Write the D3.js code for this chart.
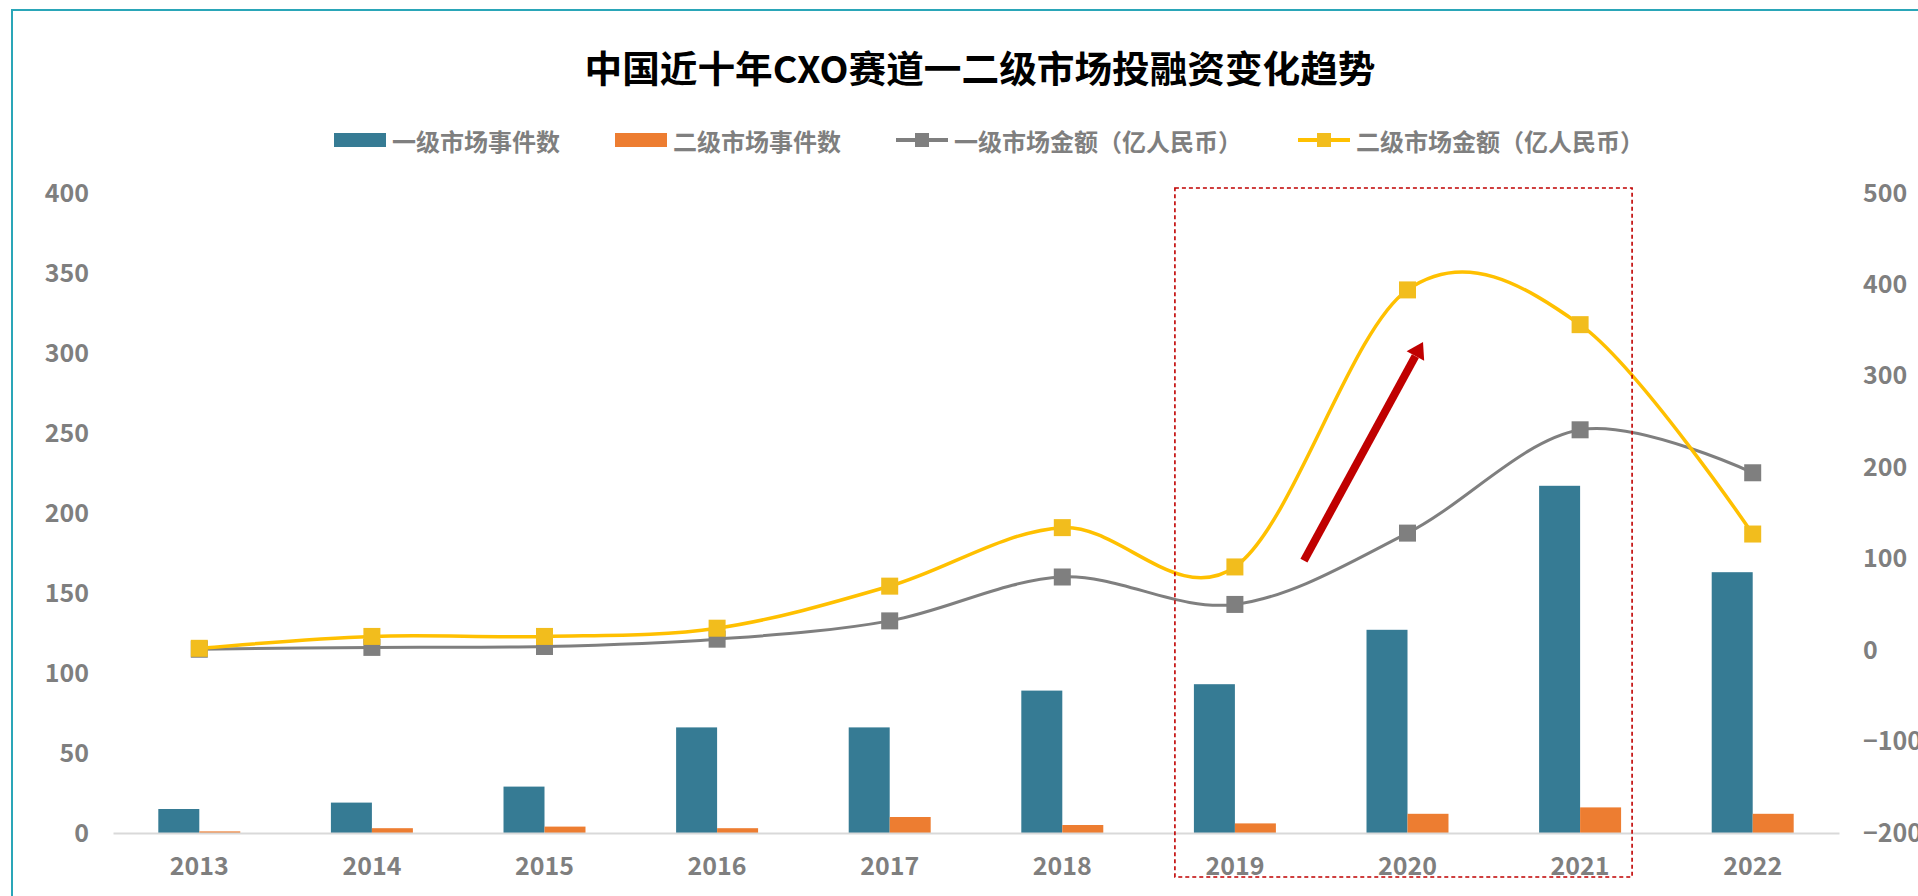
<!DOCTYPE html>
<html><head><meta charset="utf-8">
<script src="https://cdn.jsdelivr.net/npm/d3@7"></script>
<style>
body{margin:0;background:#fff;overflow:hidden;}
svg{display:block;}
text{font-family:"Noto Sans CJK SC","Noto Sans",sans-serif;font-weight:700;}
</style>
</head><body><svg id="c" width="1918" height="896"></svg>
<script>
const years = ["2013","2014","2015","2016","2017","2018","2019","2020","2021","2022"];
const primaryEvents = [15,19,29,66,66,89,93,127,217,163];
const secondaryEvents = [1,3,4,3,10,5,6,12,16,12];
const primaryAmount = [1,3,4,12,32,80,50,128,241,194];
const secondaryAmount = [2,15,15,24,70,134,91,394,356,127];
const leftTicks = [0,50,100,150,200,250,300,350,400];
const rightTicks = [-200,-100,0,100,200,300,400,500];
const seriesNames = ["一级市场事件数","二级市场事件数","一级市场金额（亿人民币）","二级市场金额（亿人民币）"];
const seriesColors = ["#367b94","#ed7d31","#7f7f7f","#ffc000"];
const markerColors = [null,null,"#7f7f7f","#f2bd1d"];
const titleText = "中国近十年CXO赛道一二级市场投融资变化趋势";

const svg = d3.select("#c");
svg.append("rect").attr("width",1918).attr("height",896).attr("fill","#fff");
// frame
svg.append("rect").attr("x",12).attr("y",10).attr("width",1930).attr("height",900)
  .attr("fill","none").attr("stroke","#2aa6b8").attr("stroke-width",2);

const x0 = d3.scaleBand().domain(years).range([113,1839]).paddingInner(0.525).paddingOuter(0.2625);
const bw = x0.bandwidth();
const x1 = d3.scaleBand().domain([0,1]).range([0,bw]);
const yL = d3.scaleLinear().domain([0,400]).range([833,193]);
const yR = d3.scaleLinear().domain([-200,500]).range([833,193]);
const cx = y => x0(y) + bw/2;

// title
svg.append("text").attr("x",980).attr("y",67).attr("text-anchor","middle")
  .attr("dominant-baseline","central").attr("font-size",37).attr("fill","#000")
  .attr("textLength",791).attr("lengthAdjust","spacingAndGlyphs").text(titleText);

// legend
const lg = svg.append("g");
let lx = 334;
seriesNames.forEach((name,i)=>{
  const g = lg.append("g").attr("transform",`translate(${lx},140)`);
  if(i<2){
    g.append("rect").attr("x",0).attr("y",-7).attr("width",52).attr("height",14).attr("fill",seriesColors[i]);
  } else {
    g.append("line").attr("x1",0).attr("x2",52).attr("y1",0).attr("y2",0)
      .attr("stroke",seriesColors[i]).attr("stroke-width",4);
    g.append("rect").attr("x",26-7).attr("y",-7).attr("width",14).attr("height",14).attr("fill",markerColors[i]);
  }
  const t = g.append("text").attr("x",58).attr("y",0).attr("dominant-baseline","central")
    .attr("font-size",24).attr("fill","#7f7f7f").text(name);
  const w = t.node().getComputedTextLength();
  lx += 58 + w + (i===2 ? 56 : 55);
});

// axes
const axL = svg.append("g").attr("transform","translate(89,0)")
  .call(d3.axisLeft(yL).tickValues(leftTicks).tickSize(0).tickPadding(0));
const axR = svg.append("g").attr("transform","translate(1863,0)")
  .call(d3.axisRight(yR).tickValues(rightTicks).tickSize(0).tickPadding(0));
[axL,axR].forEach(a=>{
  a.select(".domain").remove();
  a.selectAll("text").attr("font-size",25).attr("fill","#7f7f7f")
    .attr("font-family",'"Noto Sans CJK SC","Noto Sans",sans-serif').attr("font-weight",700);
});

// bars
const bars = svg.append("g");
years.forEach((y,i)=>{
  bars.append("rect").attr("x",x0(y)+x1(0)).attr("y",yL(primaryEvents[i]))
    .attr("width",x1.bandwidth()).attr("height",yL(0)-yL(primaryEvents[i])).attr("fill",seriesColors[0]);
  bars.append("rect").attr("x",x0(y)+x1(1)).attr("y",yL(secondaryEvents[i]))
    .attr("width",x1.bandwidth()).attr("height",yL(0)-yL(secondaryEvents[i])).attr("fill",seriesColors[1]);
});

const axB = svg.append("g").attr("transform","translate(0,833)")
  .call(d3.axisBottom(x0).tickSize(0).tickSizeOuter(0).tickPadding(24));
axB.select(".domain").attr("stroke","#d9d9d9").attr("stroke-width",2);
axB.selectAll("text").attr("font-size",25).attr("fill","#7f7f7f")
  .attr("font-family",'"Noto Sans CJK SC","Noto Sans",sans-serif').attr("font-weight",700);

// lines
const line = d3.line().x((d,i)=>cx(years[i])).y(d=>yR(d)).curve(d3.curveCatmullRom.alpha(0));
[[primaryAmount,2,3],[secondaryAmount,3,3.5]].forEach(([data,si,sw])=>{
  svg.append("path").attr("d",line(data)).attr("fill","none")
    .attr("stroke",seriesColors[si]).attr("stroke-width",sw);
  svg.append("g").selectAll("rect").data(data).join("rect")
    .attr("x",(d,i)=>cx(years[i])-8.5).attr("y",d=>yR(d)-8.5)
    .attr("width",17).attr("height",17).attr("fill",markerColors[si]);
});

// annotation: dashed highlight box around 2019-2021
const step = x0.step();
svg.append("rect").attr("x",x0("2019")-19).attr("y",188)
  .attr("width",(x0("2021")+bw+11)-(x0("2019")-19)).attr("height",877-188)
  .attr("fill","none").attr("stroke","#c00000").attr("stroke-width",1.6).attr("stroke-dasharray","4,3");

// annotation arrow
const ax1 = cx("2019")+0.40*step, ay1 = yR(98);
const ax2 = cx("2020")+0.09*step, ay2 = yR(337);
const ang = Math.atan2(ay2-ay1, ax2-ax1);
const headLen = 16, headW = 10;
const bx = ax2 - headLen*Math.cos(ang), by = ay2 - headLen*Math.sin(ang);
svg.append("line").attr("x1",ax1).attr("y1",ay1).attr("x2",bx).attr("y2",by)
  .attr("stroke","#c00000").attr("stroke-width",8);
const px = -Math.sin(ang), py = Math.cos(ang);
svg.append("path").attr("d",`M${ax2},${ay2}L${bx+px*headW},${by+py*headW}L${bx-px*headW},${by-py*headW}Z`)
  .attr("fill","#c00000");
</script>
</body></html>
